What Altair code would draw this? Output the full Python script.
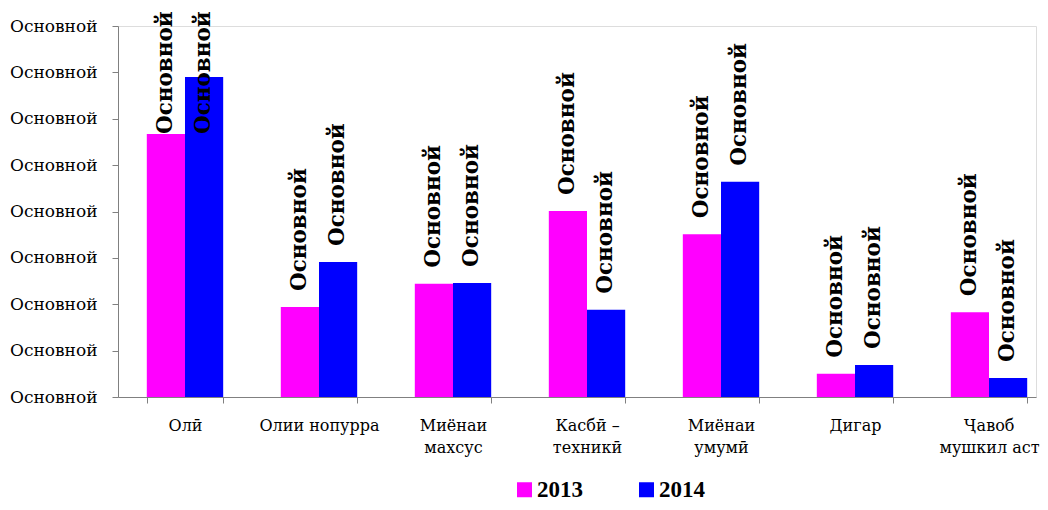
import altair as alt
import pandas as pd

categories = ["Олӣ", "Олии нопурра", "Миёнаи|махсус", "Касбӣ –|техникӣ",
              "Миёнаи|умумӣ", "Дигар", "Ҷавоб|мушкил аст"]
years = ["2013", "2014"]
values_2013 = [56.7, 19.4, 24.4, 40.1, 35.1, 5.0, 18.3]
values_2014 = [69.0, 29.1, 24.6, 18.8, 46.4, 6.9, 4.1]
bar_label = "Основной"
tick_label = "Основной"
colors = ["#FF00FF", "#0000FF"]

rows = []
for c, a, b in zip(categories, values_2013, values_2014):
    rows.append({"cat": c, "year": years[0], "value": a, "label": bar_label})
    rows.append({"cat": c, "year": years[1], "value": b, "label": bar_label})
df = pd.DataFrame(rows)

SERIF = "DejaVu Serif"
SERIF2 = "Liberation Serif"

x_enc = alt.X("cat:N", sort=categories, title=None,
              scale=alt.Scale(paddingInner=0.43, paddingOuter=0.1403, align=0.766),
              axis=alt.Axis(labelAngle=0, tickBand="extent",
                            labelExpr="split(datum.label, '|')",
                            labelLineHeight=22, labelPadding=14, tickSize=6,
                            labelFont=SERIF, labelFontSize=16, labelColor="#000000",
                            domainColor="#808080", tickColor="#808080"))
xoff = alt.XOffset("year:N", sort=years, scale=alt.Scale(paddingInner=0, paddingOuter=0))
col = alt.Color("year:N", sort=years, title=None,
                scale=alt.Scale(domain=years, range=colors),
                legend=alt.Legend(orient="none", legendX=395, legendY=452,
                                  direction="horizontal", symbolType="square",
                                  symbolSize=225, symbolStrokeWidth=0,
                                  labelFont=SERIF2, labelFontWeight="bold",
                                  labelFontSize=23, labelColor="#000000",
                                  columnPadding=52, labelOffset=1))

y_scale = alt.Scale(domain=[0, 80], nice=False, zero=True)

bars = alt.Chart(df).mark_bar().encode(
    x=x_enc, xOffset=xoff,
    y=alt.Y("value:Q", scale=y_scale, title=None,
            axis=alt.Axis(values=[0, 10, 20, 30, 40, 50, 60, 70, 80],
                          labelExpr="'" + tick_label + "'", grid=False,
                          tickSize=6, labelPadding=15,
                          labelFont=SERIF, labelFontSize=17, labelColor="#000000",
                          domainColor="#808080", tickColor="#808080")),
    color=col,
)

labels = alt.Chart(df).transform_calculate(
    ly="min(datum.value + 3.45, 56.7)"
).mark_text(angle=270, align="left", baseline="middle", font=SERIF,
            fontWeight="bold", fontSize=21.5, color="#000000").encode(
    x=alt.X("cat:N", sort=categories),
    xOffset=xoff,
    y=alt.Y("ly:Q", scale=y_scale),
    text="label:N",
)

chart = alt.layer(bars, labels).properties(
    width=918, height=371,
    autosize=alt.AutoSizeParams(type="none"),
    padding={"left": 110, "top": 18, "right": 4, "bottom": 105},
).configure_view(stroke=None).configure(background="#ffffff")

chart.save("out.html", embed_options={"renderer": "svg", "actions": False})
